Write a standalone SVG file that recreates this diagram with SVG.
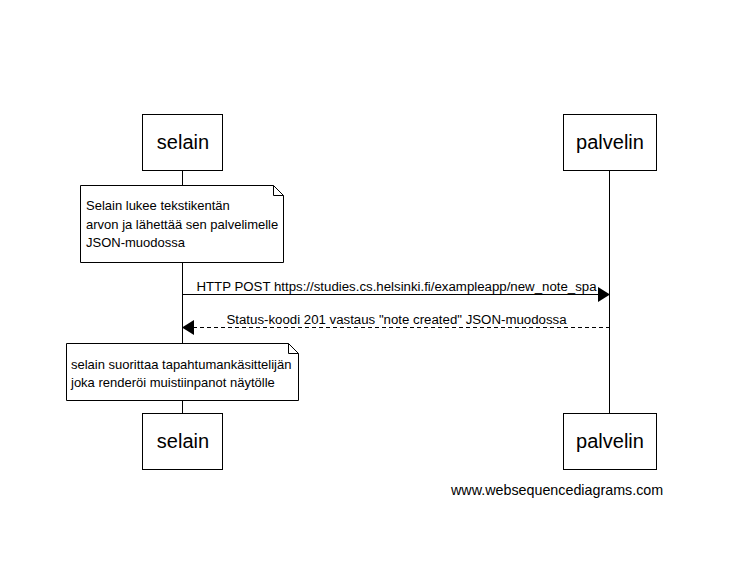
<svg xmlns="http://www.w3.org/2000/svg" width="731" height="581" viewBox="0 0 731 581">
<style>
.box{fill:#fff;stroke:#000;stroke-width:1}
.life{stroke:#000;stroke-width:1}
.note{fill:#fff;stroke:#000;stroke-width:1}
.fold{fill:none;stroke:#000;stroke-width:1}
.pt{font-family:"Liberation Sans",Arial,sans-serif;font-size:20px;fill:#000;text-anchor:middle}
.nt{font-family:"Liberation Sans",Arial,sans-serif;font-size:13px;fill:#000}
.at{font-family:"Liberation Sans",Arial,sans-serif;font-size:13.25px;fill:#000;text-anchor:middle}
.ft{font-family:"Liberation Sans",Arial,sans-serif;font-size:14.3px;fill:#000}
</style>
<rect width="731" height="581" fill="#fff"/>
<g id="lifelines">
<line class="life" x1="182.5" y1="171" x2="182.5" y2="413"/>
<line class="life" x1="609.5" y1="171" x2="609.5" y2="413"/>
</g>
<g id="selain-top"><rect class="box" x="142.5" y="114.5" width="80" height="56"/><text class="pt" x="183" y="149">selain</text></g>
<g id="palvelin-top"><rect class="box" x="563.5" y="114.5" width="93" height="56"/><text class="pt" x="610" y="149">palvelin</text></g>
<g id="selain-bottom"><rect class="box" x="142.5" y="413.5" width="80" height="56"/><text class="pt" x="183" y="448">selain</text></g>
<g id="palvelin-bottom"><rect class="box" x="563.5" y="413.5" width="93" height="56"/><text class="pt" x="610" y="448">palvelin</text></g>
<g id="note1">
<path class="note" d="M80.5 185.5 H273.5 L283.5 195.5 V262.5 H80.5 Z"/>
<path class="fold" d="M273.5 185.5 V195.5 H283.5"/>
<text class="nt" x="86" y="210">Selain lukee tekstikentän</text>
<text class="nt" x="86" y="229">arvon ja lähettää sen palvelimelle</text>
<text class="nt" x="86" y="247">JSON-muodossa</text>
</g>
<g id="note2">
<path class="note" d="M66.5 343.5 H288.5 L298.5 353.5 V400.5 H66.5 Z"/>
<path class="fold" d="M288.5 343.5 V353.5 H298.5"/>
<text class="nt" x="71" y="369">selain suorittaa tapahtumankäsittelijän</text>
<text class="nt" x="71" y="387">joka renderöi muistiinpanot näytölle</text>
</g>
<g id="connectors">
<line class="life" x1="182.5" y1="294.5" x2="599" y2="294.5"/>
<polygon points="598,287 610,294.5 598,302" fill="#000"/>
<text class="at" x="396.5" y="291">HTTP POST https://studies.cs.helsinki.fi/exampleapp/new_note_spa</text>
<line class="life" x1="193" y1="327.5" x2="609.5" y2="327.5" stroke-dasharray="4,3"/>
<polygon points="194,320 182,327.5 194,335" fill="#000"/>
<text class="at" x="396.5" y="324">Status-koodi 201 vastaus "note created" JSON-muodossa</text>
</g>
<text class="ft" x="451" y="495">www.websequencediagrams.com</text>
</svg>
